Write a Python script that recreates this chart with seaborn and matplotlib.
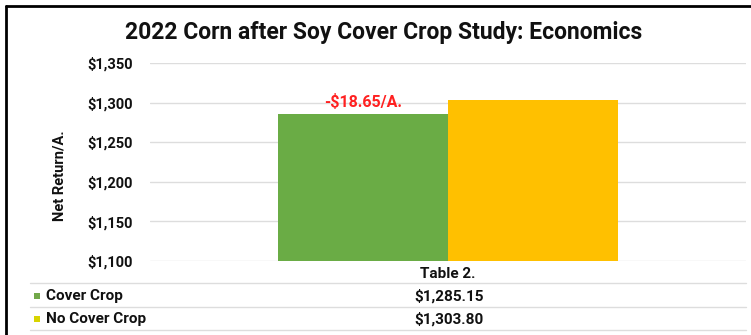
import matplotlib
matplotlib.use("Agg")
import matplotlib.pyplot as plt
import seaborn as sns
import pandas as pd
from matplotlib.lines import Line2D
from matplotlib.patches import Rectangle

# ---- data ----
category = ["Table 2."]
series = ["Cover Crop", "No Cover Crop"]
values = [1285.15, 1303.80]
value_labels = ["$1,285.15", "$1,303.80"]
yticks = [1100, 1150, 1200, 1250, 1300, 1350]
ytick_labels = ["$1,100", "$1,150", "$1,200", "$1,250", "$1,300", "$1,350"]
annotation = "-$18.65/A."
title = "2022 Corn after Soy Cover Crop Study: Economics"
ylabel = "Net Return/A."

bar_colors = ["#6aac45", "#ffc000"]
marker_colors = ["#72a84a", "#d8d400"]

df = pd.DataFrame({"cat": category * len(series), "series": series, "value": values})

sns.set_theme(style="white")
plt.rcParams["font.family"] = ["Roboto", "DejaVu Sans"]

W, H = 751, 335
fig = plt.figure(figsize=(W / 100, H / 100), dpi=100)
fig.patch.set_facecolor("white")

def fx(px):
    return px / W

def fy(py):
    return 1 - py / H

ax_left, ax_right, ax_top, ax_bottom = 150, 746, 63, 261
ax = fig.add_axes([fx(ax_left), fy(ax_bottom), fx(ax_right - ax_left), (ax_bottom - ax_top) / H])

sns.barplot(data=df, x="cat", y="value", hue="series", palette=bar_colors,
            width=0.57, ax=ax, legend=False, saturation=1, linewidth=0)
ax.set_ylim(1100, 1350)
ax.set_xlim(-0.5, 0.5)
ax.set_yticks(yticks)
ax.set_yticklabels(ytick_labels, fontsize=10.5, fontweight="bold", color="#111111")
ax.tick_params(axis="y", length=0, pad=12.5)
ax.tick_params(axis="x", length=0, pad=4, labelsize=11)
for lbl in ax.get_xticklabels():
    lbl.set_fontweight("bold")
    lbl.set_color("#111111")
ax.set_xlabel("")
ax.set_ylabel(ylabel, fontsize=10.5, fontweight="bold", color="#111111")
ax.yaxis.set_label_coords((67 - ax_left) / (ax_right - ax_left), (ax_bottom - 176) / (ax_bottom - ax_top))
ax.grid(axis="y", color="#dddddd", linewidth=1)
ax.set_axisbelow(True)
for s in ax.spines.values():
    s.set_visible(False)

# annotation over cover crop bar
bar0 = ax.patches[0]
ax.annotate(annotation, xy=(bar0.get_x() + bar0.get_width() / 2, values[0]),
            xytext=(0, 3.5), textcoords="offset points", ha="center", va="bottom",
            color="#ff2020", fontsize=11.5, fontweight="bold")

# title
fig.text(fx(384), fy(33), title, ha="center", va="center", fontsize=16.5,
         fontweight="bold", color="#111111")

# data table below
row_lines = [283, 307, 330]
for y in row_lines:
    fig.add_artist(Line2D([fx(30), fx(746)], [fy(y), fy(y)], color="#dddddd", linewidth=1))
row_y = [296, 319]
for name, val, mc, y in zip(series, value_labels, marker_colors, row_y):
    fig.add_artist(Rectangle((fx(34), fy(y + 3)), fx(6), 6 / H, color=mc, lw=0))
    fig.text(fx(46), fy(y), name, ha="left", va="center", fontsize=11,
             fontweight="bold", color="#111111")
    fig.text(fx(449), fy(y), val, ha="center", va="center", fontsize=11,
             fontweight="bold", color="#111111")

# outer border (top and left)
fig.add_artist(Line2D([fx(6), 1], [fy(6), fy(6)], color="black", linewidth=2))
fig.add_artist(Line2D([fx(6), fx(6)], [fy(6), 0], color="black", linewidth=2))

fig.savefig("out.png", dpi=100, facecolor="white")
